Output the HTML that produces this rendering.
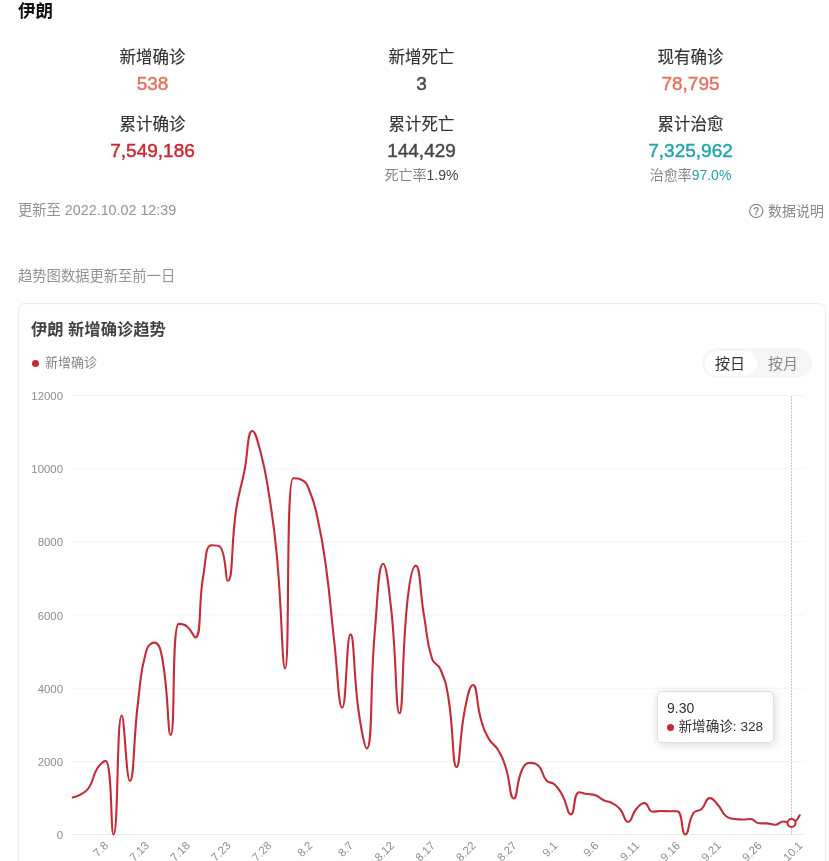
<!DOCTYPE html>
<html lang="zh-CN"><head><meta charset="utf-8"><title>伊朗</title>
<style>
html,body{margin:0;padding:0;background:#fff;}
body{width:829px;height:861px;position:relative;overflow:hidden;font-family:"Liberation Sans","Noto Sans CJK SC",sans-serif;color:#333;}
.abs{position:absolute;white-space:nowrap;}
h1{position:absolute;left:18px;top:0px;margin:0;font-size:17.5px;line-height:22px;font-weight:bold;color:#111;}
.col{position:absolute;width:269px;text-align:center;}
.lab{font-size:16.5px;line-height:22px;color:#333;height:22px;-webkit-text-stroke:0.15px currentColor;}
.num{font-size:19px;line-height:24px;height:24px;-webkit-text-stroke:0.45px currentColor;}
.sub{font-size:14px;line-height:18px;color:#888;}
.c1{color:#e8705c;}.c2{color:#d0242e;}.c3{color:#484848;}.c4{color:#1fa5ad;}
.gray{color:#939393;font-size:14.3px;line-height:20px;}
.card{position:absolute;left:18px;top:303px;width:808px;height:600px;border:1px solid #eee;border-radius:6px;box-sizing:border-box;box-shadow:inset 0 0 3px rgba(0,0,0,0.04);}
.title{position:absolute;left:31px;top:318px;font-size:16.3px;line-height:22px;font-weight:bold;color:#444;}
.legend{position:absolute;left:45px;top:353px;font-size:13px;line-height:20px;color:#858585;}
.ldot{position:absolute;left:32px;top:360px;width:7px;height:7px;border-radius:50%;background:#cc2833;}
.pill{position:absolute;left:702px;top:348px;width:110px;height:30px;border-radius:15px;background:#f6f6f6;}
.pill .on{position:absolute;left:2.5px;top:2.5px;width:52px;height:25px;border-radius:12.5px;background:#fff;}
.pill span{position:absolute;top:5px;font-size:15px;line-height:22px;}
.tip{position:absolute;left:657px;top:691px;width:117px;height:52px;box-sizing:border-box;border:1px solid #e0e0e0;border-radius:5px;background:#fff;box-shadow:1px 2px 10px rgba(0,0,0,0.15);font-size:14px;color:#333;}
svg{position:absolute;left:0;top:0;}
svg text.ax{font-size:11.4px;fill:#8e8e8e;font-family:"Liberation Sans",sans-serif;}
</style></head><body>
<h1>伊朗</h1>
<div class="col" style="left:18px;top:45.5px;"><div class="lab">新增确诊</div><div class="num c1" style="margin-top:4px">538</div></div>
<div class="col" style="left:287px;top:45.5px;"><div class="lab">新增死亡</div><div class="num c3" style="margin-top:4px">3</div></div>
<div class="col" style="left:556px;top:45.5px;"><div class="lab">现有确诊</div><div class="num c1" style="margin-top:4px">78,795</div></div>
<div class="col" style="left:18px;top:113px;"><div class="lab">累计确诊</div><div class="num c2" style="margin-top:4px">7,549,186</div></div>
<div class="col" style="left:287px;top:113px;"><div class="lab">累计死亡</div><div class="num c3" style="margin-top:4px">144,429</div><div class="sub" style="margin-top:2.5px">死亡率<span class="c3">1.9%</span></div></div>
<div class="col" style="left:556px;top:113px;"><div class="lab">累计治愈</div><div class="num c4" style="margin-top:4px">7,325,962</div><div class="sub" style="margin-top:2.5px">治愈率<span class="c4">97.0%</span></div></div>
<div class="abs gray" style="left:18px;top:200px;">更新至 2022.10.02 12:39</div>
<div class="abs gray" style="left:768px;top:201px;color:#888;font-size:14px;">数据说明</div>
<svg width="829" height="861" viewBox="0 0 829 861" style="pointer-events:none">
<circle cx="756.2" cy="211" r="6.6" fill="none" stroke="#8c8c8c" stroke-width="1.2"/>
<text x="756.2" y="214.8" text-anchor="middle" font-size="10.5" font-weight="bold" fill="#8c8c8c" font-family="Liberation Sans, sans-serif">?</text>
</svg>
<div class="abs gray" style="left:18px;top:265.7px;">趋势图数据更新至前一日</div>
<div class="card"></div>
<div class="title">伊朗 新增确诊趋势</div>
<div class="ldot"></div><div class="legend">新增确诊</div>
<div class="pill"><div class="on"></div><span style="left:13px;color:#333;">按日</span><span style="left:66px;color:#888;">按月</span></div>
<svg width="829" height="861" viewBox="0 0 829 861">
<line x1="72" x2="804.5" y1="395.5" y2="395.5" stroke="#f4f4f4" stroke-width="1"/><line x1="72" x2="804.5" y1="468.7" y2="468.7" stroke="#f4f4f4" stroke-width="1"/><line x1="72" x2="804.5" y1="541.8" y2="541.8" stroke="#f4f4f4" stroke-width="1"/><line x1="72" x2="804.5" y1="615.0" y2="615.0" stroke="#f4f4f4" stroke-width="1"/><line x1="72" x2="804.5" y1="688.2" y2="688.2" stroke="#f4f4f4" stroke-width="1"/><line x1="72" x2="804.5" y1="761.4" y2="761.4" stroke="#f4f4f4" stroke-width="1"/><line x1="72" x2="804.5" y1="834.5" y2="834.5" stroke="#ececec" stroke-width="1"/>
<text x="63" y="400.1" text-anchor="end" class="ax">12000</text><text x="63" y="473.3" text-anchor="end" class="ax">10000</text><text x="63" y="546.4" text-anchor="end" class="ax">8000</text><text x="63" y="619.6" text-anchor="end" class="ax">6000</text><text x="63" y="692.8" text-anchor="end" class="ax">4000</text><text x="63" y="766.0" text-anchor="end" class="ax">2000</text><text x="63" y="839.1" text-anchor="end" class="ax">0</text>
<text transform="translate(106.2,843.5) rotate(-45)" text-anchor="end" dy="0.35em" class="ax">7.8</text><text transform="translate(147.0,843.5) rotate(-45)" text-anchor="end" dy="0.35em" class="ax">7.13</text><text transform="translate(187.9,843.5) rotate(-45)" text-anchor="end" dy="0.35em" class="ax">7.18</text><text transform="translate(228.7,843.5) rotate(-45)" text-anchor="end" dy="0.35em" class="ax">7.23</text><text transform="translate(269.5,843.5) rotate(-45)" text-anchor="end" dy="0.35em" class="ax">7.28</text><text transform="translate(310.4,843.5) rotate(-45)" text-anchor="end" dy="0.35em" class="ax">8.2</text><text transform="translate(351.2,843.5) rotate(-45)" text-anchor="end" dy="0.35em" class="ax">8.7</text><text transform="translate(392.1,843.5) rotate(-45)" text-anchor="end" dy="0.35em" class="ax">8.12</text><text transform="translate(432.9,843.5) rotate(-45)" text-anchor="end" dy="0.35em" class="ax">8.17</text><text transform="translate(473.7,843.5) rotate(-45)" text-anchor="end" dy="0.35em" class="ax">8.22</text><text transform="translate(514.6,843.5) rotate(-45)" text-anchor="end" dy="0.35em" class="ax">8.27</text><text transform="translate(555.4,843.5) rotate(-45)" text-anchor="end" dy="0.35em" class="ax">9.1</text><text transform="translate(596.3,843.5) rotate(-45)" text-anchor="end" dy="0.35em" class="ax">9.6</text><text transform="translate(637.1,843.5) rotate(-45)" text-anchor="end" dy="0.35em" class="ax">9.11</text><text transform="translate(677.9,843.5) rotate(-45)" text-anchor="end" dy="0.35em" class="ax">9.16</text><text transform="translate(718.8,843.5) rotate(-45)" text-anchor="end" dy="0.35em" class="ax">9.21</text><text transform="translate(759.6,843.5) rotate(-45)" text-anchor="end" dy="0.35em" class="ax">9.26</text><text transform="translate(800.5,843.5) rotate(-45)" text-anchor="end" dy="0.35em" class="ax">10.1</text>
<line x1="791.5" x2="791.5" y1="396" y2="835" stroke="#c6c6c6" stroke-width="1" stroke-dasharray="2 1"/>
<path d="M72.70 797.50C72.70 797.50 77.17 796.56 80.87 794.30C85.34 791.56 86.26 791.88 89.04 787.50C94.43 778.98 91.90 777.14 97.20 768.50C100.07 763.84 104.30 760.90 105.37 760.90C112.47 760.90 110.41 834.50 113.54 834.50C118.58 834.50 116.45 715.50 121.71 715.50C124.61 715.50 126.17 780.90 129.88 780.90C134.34 780.90 133.10 741.34 138.04 702.00C141.27 676.39 139.55 675.21 146.21 651.00C147.72 645.51 151.29 642.60 154.38 642.60C159.45 642.60 160.89 650.62 162.55 660.00C169.06 696.82 167.42 735.00 170.72 735.00C175.59 735.00 171.30 623.90 178.88 623.90C179.47 623.90 183.91 623.90 187.05 626.50C192.08 630.66 193.76 637.50 195.22 637.50C201.93 637.50 197.91 605.97 203.39 575.00C206.07 559.82 205.11 545.20 211.56 545.20C213.28 545.20 218.17 545.20 219.72 546.50C226.34 552.03 225.19 580.70 227.89 580.70C233.36 580.70 230.78 545.15 236.06 510.00C238.95 490.80 240.29 491.03 244.23 472.00C248.46 451.53 247.09 431.00 252.40 431.00C255.26 431.00 257.70 441.14 260.56 452.00C265.87 472.14 265.49 472.36 268.73 493.00C273.66 524.36 273.96 524.38 276.90 556.00C282.13 612.13 282.03 668.50 285.07 668.50C290.20 668.50 285.41 478.30 293.24 478.30C293.58 478.30 298.36 478.30 301.40 479.70C306.53 482.06 306.93 484.64 309.57 491.00C315.10 504.29 314.64 504.77 317.74 519.00C322.81 542.27 322.72 542.37 325.91 566.00C330.89 602.87 329.82 603.02 334.08 640.00C337.98 673.92 338.32 707.80 342.24 707.80C346.49 707.80 346.41 634.40 350.41 634.40C354.58 634.40 353.13 672.92 358.58 711.00C361.30 729.97 364.75 748.50 366.75 748.50C372.92 748.50 369.69 689.14 374.92 630.00C377.85 596.79 378.28 563.80 383.08 563.80C386.44 563.80 388.72 586.55 391.25 609.70C396.89 661.30 395.53 713.30 399.42 713.30C403.69 713.30 401.33 656.06 407.59 599.50C409.50 582.21 412.40 565.60 415.76 565.60C420.57 565.60 419.61 590.34 423.92 615.00C427.78 637.04 425.75 638.05 432.09 659.00C433.92 665.05 437.81 663.15 440.26 669.00C445.98 682.65 445.96 683.18 448.43 698.00C454.13 732.18 452.13 767.00 456.60 767.00C460.30 767.00 459.16 738.14 464.76 710.00C467.32 697.14 469.48 685.00 472.93 685.00C477.65 685.00 475.96 702.84 481.10 720.00C484.13 730.09 484.14 730.40 489.27 739.50C492.31 744.90 494.27 743.67 497.44 749.00C502.44 757.42 502.52 757.65 505.60 767.00C510.69 782.40 509.50 798.50 513.77 798.50C517.67 798.50 515.96 783.04 521.94 770.00C524.12 765.24 525.55 762.90 530.11 762.90C533.72 762.90 535.55 762.90 538.28 765.50C543.71 770.68 541.11 774.30 546.44 780.50C549.28 783.80 551.41 781.46 554.61 784.50C559.58 789.21 559.41 789.84 562.78 796.00C567.58 804.79 567.19 814.40 570.95 814.40C575.36 814.40 573.08 792.20 579.12 792.20C581.25 792.20 583.17 793.25 587.28 794.00C591.34 794.75 591.68 794.00 595.45 795.20C599.85 796.60 599.31 798.24 603.62 800.30C607.47 802.14 608.04 801.00 611.79 803.00C616.21 805.35 616.71 805.22 619.96 809.00C624.88 814.72 624.04 822.00 628.12 822.00C632.21 822.00 631.37 814.72 636.29 809.00C639.54 805.22 640.71 803.00 644.46 803.00C648.88 803.00 647.79 811.70 652.63 811.70C655.95 811.70 656.71 811.00 660.80 811.00C664.87 811.00 664.88 811.12 668.96 811.20C673.05 811.27 675.10 811.20 677.13 811.30C683.26 811.60 681.08 834.50 685.30 834.50C689.25 834.50 687.61 822.14 693.47 813.00C695.78 809.39 698.37 811.98 701.64 809.00C706.53 804.53 705.23 798.10 709.80 798.10C713.40 798.10 714.43 801.05 717.97 805.00C722.59 810.15 721.09 811.97 726.14 816.30C729.26 818.97 730.12 818.47 734.31 819.00C738.29 819.50 738.39 819.50 742.48 819.50C746.56 819.50 746.81 819.00 750.64 819.00C754.97 819.00 754.48 823.19 758.81 823.30C762.65 823.40 762.92 823.30 766.98 823.40C771.09 823.50 771.18 824.70 775.15 824.70C779.35 824.70 779.12 821.50 783.32 821.50C787.29 821.50 788.01 823.00 791.48 823.00C796.18 823.00 799.65 815.30 799.65 815.30" fill="none" stroke="#c62c38" stroke-width="2.1" stroke-linejoin="round" stroke-linecap="round"/>
<circle cx="791.5" cy="823" r="4" fill="#fff" stroke="#c62c38" stroke-width="2.1"/>
</svg>
<div class="tip"><div class="abs" style="left:9px;top:5.5px;line-height:20px;">9.30</div><div style="position:absolute;left:8.5px;top:31.5px;width:7px;height:7px;border-radius:50%;background:#cc2833;"></div><div class="abs" style="left:20.5px;top:24.5px;line-height:20px;font-size:13.6px;">新增确诊: 328</div></div>
</body></html>
